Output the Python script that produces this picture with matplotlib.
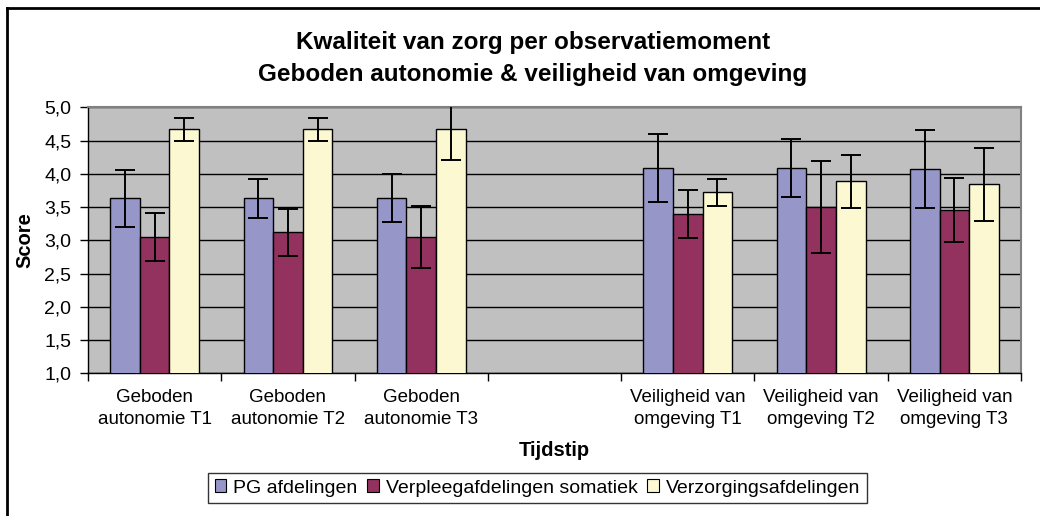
import matplotlib

matplotlib.use("Agg")
import matplotlib.pyplot as plt
import numpy as np
from matplotlib.lines import Line2D
from matplotlib.ticker import FixedLocator, FuncFormatter

plt.rcParams["font.family"] = ["Liberation Sans", "DejaVu Sans"]

categories = [
    "Geboden\nautonomie T1",
    "Geboden\nautonomie T2",
    "Geboden\nautonomie T3",
    "",
    "Veiligheid van\nomgeving T1",
    "Veiligheid van\nomgeving T2",
    "Veiligheid van\nomgeving T3",
]
series_names = ["PG afdelingen", "Verpleegafdelingen somatiek", "Verzorgingsafdelingen"]
pg_vals = [3.63, 3.63, 3.63, np.nan, 4.09, 4.09, 4.07]
pg_err = [0.43, 0.29, 0.36, np.nan, 0.51, 0.44, 0.59]
verpleeg_vals = [3.05, 3.12, 3.05, np.nan, 3.40, 3.50, 3.45]
verpleeg_err = [0.36, 0.35, 0.46, np.nan, 0.36, 0.69, 0.48]
verzorg_vals = [4.67, 4.67, 4.67, np.nan, 3.72, 3.89, 3.84]
verzorg_err = [0.17, 0.17, 0.46, np.nan, 0.20, 0.40, 0.55]

colors = ["#9696C8", "#93315F", "#FBF8D2"]

W, H = 1040, 516
fig = plt.figure(figsize=(W / 100, H / 100), dpi=100, facecolor="white")
ax = fig.add_axes([88 / W, 1 - 373.3 / H, 933 / W, 266 / H])
ax.set_facecolor("#C0C0C0")

x = np.arange(len(categories))
width = 1 / 4.5
series = [(pg_vals, pg_err), (verpleeg_vals, verpleeg_err), (verzorg_vals, verzorg_err)]
for i, (vals, errs) in enumerate(series):
    pos = x + (i - 1) * width
    ax.bar(pos, vals, width, color=colors[i], edgecolor="black", linewidth=1.0,
           label=series_names[i], zorder=3)
    ax.errorbar(pos, vals, yerr=errs, fmt="none", ecolor="black", elinewidth=1.4,
                capsize=7, capthick=1.4, zorder=4)

ax.set_xlim(-0.5, len(categories) - 0.5)
ax.set_ylim(1.0, 5.0)
ax.set_yticks(np.arange(1.0, 5.01, 0.5))
ax.yaxis.set_major_formatter(FuncFormatter(lambda v, _: f"{v:.1f}".replace(".", ",")))
ax.grid(True, axis="y", color="black", linewidth=1.0, zorder=1)
ax.set_axisbelow(True)

ax.set_xticks(x)
ax.set_xticklabels(categories, fontsize=13.5, linespacing=1.45)
ax.xaxis.set_minor_locator(FixedLocator(np.arange(-0.5, len(categories), 1.0)))
ax.tick_params(axis="x", which="major", length=0, pad=11)
ax.tick_params(axis="x", which="minor", length=6, width=1, direction="out")
ax.tick_params(axis="y", length=6, width=1, labelsize=14, pad=6)

for s in ("top", "right"):
    ax.spines[s].set_color("#808080")
    ax.spines[s].set_linewidth(1.5)
for s in ("left", "bottom"):
    ax.spines[s].set_color("black")
    ax.spines[s].set_linewidth(1.0)

fig.text(25 / W, 1 - 240 / H, "Score", rotation=90, ha="center", va="center",
         fontsize=14.5, fontweight="bold")
fig.text(554 / W, 1 - 450 / H, "Tijdstip", ha="center", va="center",
         fontsize=14.5, fontweight="bold")

fig.text(533 / W, 1 - 43 / H, "Kwaliteit van zorg per observatiemoment",
         ha="center", va="center", fontsize=17.5, fontweight="bold")
fig.text(533 / W, 1 - 74 / H, "Geboden autonomie & veiligheid van omgeving",
         ha="center", va="center", fontsize=17.5, fontweight="bold")

leg = fig.legend(loc="center", bbox_to_anchor=(537.5 / W, 1 - 488 / H), ncol=3,
                 fontsize=14, frameon=True, fancybox=False, edgecolor="black",
                 handlelength=0.6, handleheight=0.6, handletextpad=0.35,
                 columnspacing=0.5, borderpad=0.35)
leg.get_frame().set_linewidth(1.0)
for h in leg.legend_handles:
    h.set_linewidth(0.8)

# outer chart frame (cropped: only top and left edges visible)
fig.add_artist(Line2D([7 / W, 1.0], [1 - 8 / H, 1 - 8 / H],
                      transform=fig.transFigure, color="black", linewidth=2))
fig.add_artist(Line2D([7 / W, 7 / W], [0.0, 1 - 8 / H],
                      transform=fig.transFigure, color="black", linewidth=2))

fig.savefig("out.png", dpi=100, facecolor="white")
